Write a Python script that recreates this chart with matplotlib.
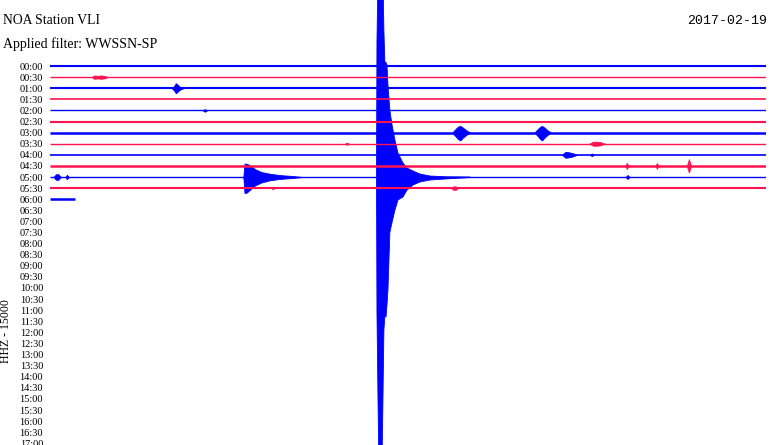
import matplotlib
matplotlib.use("Agg")
import matplotlib.pyplot as plt

# ---------------- data ----------------
row_labels = ["%02d:%02d" % (h, m) for h in range(0, 18) for m in (0, 30)][:35]
n_rows_with_data = 13
row_end_min = [30] * 12 + [1.05]          # minutes of data on each line
row_width = [1.5, 1.0, 1.5, 1.2, 1.0, 1.5, 1.8, 1.0, 1.2, 1.8, 1.0, 1.5, 1.8]

title = "NOA Station VLI"
subtitle = "Applied filter: WWSSN-SP"
date_text = "2017-02-19"
channel_text = "HHZ - 15000"

# events: (row, minutes, upward amplitude [rows], downward amplitude [rows])
events = [
    (1, [1.75, 1.85, 2.0, 2.15, 2.3, 2.4], [0, 0.15, 0.12, 0.15, 0.1, 0], [0, 0.15, 0.12, 0.15, 0.1, 0]),
    (2, [5.1, 5.2, 5.27, 5.33, 5.45, 5.6], [0, 0.2, 0.45, 0.35, 0.12, 0], [0, 0.2, 0.45, 0.35, 0.12, 0]),
    (4, [6.4, 6.49, 6.58], [0, 0.12, 0], [0, 0.12, 0]),
    (6, [16.85, 17.0, 17.1, 17.2, 17.3, 17.45, 17.6], [0, 0.35, 0.55, 0.6, 0.45, 0.2, 0], [0, 0.35, 0.6, 0.7, 0.45, 0.2, 0]),
    (6, [20.3, 20.45, 20.55, 20.62, 20.72, 20.85, 21.0], [0, 0.35, 0.55, 0.6, 0.45, 0.2, 0], [0, 0.35, 0.6, 0.7, 0.45, 0.2, 0]),
    (7, [12.36, 12.44, 12.52], [0, 0.1, 0], [0, 0.1, 0]),
    (7, [22.6, 22.75, 22.9, 23.05, 23.25], [0, 0.18, 0.18, 0.15, 0], [0, 0.18, 0.18, 0.15, 0]),
    (8, [21.45, 21.6, 21.75, 21.9, 22.08], [0, 0.27, 0.22, 0.15, 0], [0, 0.27, 0.22, 0.15, 0]),
    (8, [22.62, 22.7, 22.78], [0, 0.12, 0], [0, 0.12, 0]),
    (9, [24.1, 24.17, 24.24], [0, 0.27, 0], [0, 0.27, 0]),
    (9, [25.36, 25.43, 25.5], [0, 0.25, 0], [0, 0.25, 0]),
    (9, [26.68, 26.77, 26.86], [0, 0.6, 0], [0, 0.6, 0]),
    (10, [0.15, 0.25, 0.35, 0.45], [0, 0.25, 0.25, 0], [0, 0.25, 0.25, 0]),
    (10, [0.64, 0.71, 0.78], [0, 0.2, 0], [0, 0.2, 0]),
    (10, [8.1, 8.15, 8.25, 8.4, 8.6, 8.85, 9.2, 9.6, 10.1, 10.6],
         [0, 1.2, 1.2, 1.0, 0.7, 0.45, 0.3, 0.18, 0.1, 0],
         [0, 1.45, 1.4, 1.1, 0.75, 0.5, 0.3, 0.18, 0.1, 0]),
    (10, [13.68, 13.70, 13.74, 13.78, 13.91, 13.95, 13.99, 14.03, 14.08, 14.12, 14.16, 14.24,
          14.33, 14.45, 14.58, 14.79, 14.96, 15.21, 15.50, 15.92, 16.55, 17.6],
         [0, 12.3, 18, 18, 18, 18, 13.2, 10.4, 10.3, 10.1, 8.3, 6.0, 4.7, 3.35, 2.16, 1.26,
          0.81, 0.54, 0.27, 0.09, 0.02, 0],
         [0, 12.25, 19.5, 26, 26, 20.1, 13.8, 12.6, 12.6, 11.5, 10.2, 5.0, 4.1, 3.0, 2.07, 1.8,
          1.17, 0.72, 0.45, 0.27, 0.18, 0.05]),
    (10, [24.12, 24.2, 24.28], [0, 0.18, 0], [0, 0.18, 0]),
    (11, [9.28, 9.34, 9.4], [0, 0.1, 0], [0, 0.1, 0]),
    (11, [16.8, 16.9, 17.0, 17.1], [0, 0.15, 0.15, 0], [0, 0.15, 0.15, 0]),
]

colors = ["#0000ff", "#ff1450"]

# ---------------- figure ----------------
W, H = 770, 445
fig = plt.figure(figsize=(W / 100, H / 100), dpi=100)
ax = fig.add_axes([50 / W, 0, 716 / W, 1])

for r in range(n_rows_with_data):
    c = colors[r % 2]
    ax.plot([0, row_end_min[r]], [r, r], color=c, lw=row_width[r], solid_capstyle="butt")
    for (er, xs, up, lo) in events:
        if er == r:
            ax.fill_between(xs, [r - u for u in up], [r + l for l in lo],
                            color=c, lw=0.6, edgecolor=c)

ax.set_xlim(0, 30)
ax.set_ylim(34.15, -5.95)
ax.set_yticks(range(len(row_labels)))
ax.set_yticklabels(row_labels, fontfamily="Liberation Serif", fontsize=7.5)
ax.tick_params(axis="y", length=0, pad=5)
ax.set_xticks([])
for s in ax.spines.values():
    s.set_visible(False)

fig.text(3 / W, 1 - 21 / H, title, ha="left", va="center",
         family="Liberation Serif", fontsize=9.8)
fig.text(3 / W, 1 - 44 / H, subtitle, ha="left", va="center",
         family="Liberation Serif", fontsize=10)
fig.text(767 / W, 1 - 21 / H, date_text, ha="right", va="center",
         family="Liberation Mono", fontsize=9.5)
fig.text(6 / W, 1 - 331 / H, channel_text, ha="center", va="center", rotation=90,
         family="Liberation Serif", fontsize=8.5)

fig.savefig("out.png", dpi=100)
